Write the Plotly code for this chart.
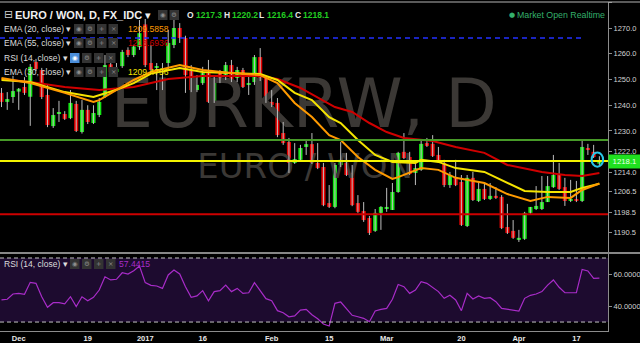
import plotly.graph_objects as go
import pandas as pd

# ---------------- data ----------------
dates = [d.strftime("%Y-%m-%d") for d in pd.bdate_range("2016-11-28", "2017-04-21")]

opens = [1244.8, 1241.3, 1243.2, 1245.3, 1247.1, 1243.3, 1256.8, 1253.7, 1244.0, 1231.9,
         1236.8, 1236.6, 1235.0, 1240.5, 1229.6, 1238.2, 1233.1, 1236.2, 1243.2, 1255.9,
         1252.9, 1255.2, 1261.5, 1259.5, 1262.6, 1271.4, 1256.4, 1254.5, 1253.7, 1256.4,
         1263.4, 1270.0, 1266.1, 1253.7, 1245.9, 1248.6, 1252.5, 1241.3, 1252.5, 1251.0,
         1255.6, 1250.6, 1253.7, 1247.9, 1249.0, 1258.7, 1250.6, 1241.3, 1240.9, 1229.2,
         1225.7, 1217.6, 1218.8, 1223.8, 1224.9, 1217.6, 1216.0, 1202.0, 1200.5, 1216.8,
         1217.6, 1213.7, 1202.0, 1198.9, 1196.2, 1191.2, 1198.2, 1199.7, 1199.3, 1206.3,
         1221.9, 1219.9, 1213.7, 1214.9, 1225.3, 1225.0, 1220.7, 1217.6, 1209.0, 1212.1,
         1210.2, 1193.1, 1211.8, 1202.8, 1207.5, 1203.6, 1204.8, 1204.4, 1192.7, 1191.2,
         1187.7, 1188.1, 1198.2, 1199.7, 1199.7, 1202.4, 1208.2, 1212.9, 1208.2, 1202.8,
         1203.6, 1202.8, 1223.4, 1221.9, 1217.3]
highs = [1246.7, 1245.1, 1251.4, 1246.7, 1250.9, 1256.0, 1258.0, 1254.5, 1247.9, 1238.9,
         1241.7, 1237.7, 1245.9, 1241.7, 1242.0, 1240.0, 1240.0, 1242.8, 1259.5, 1258.7,
         1256.4, 1261.5, 1262.5, 1263.5, 1273.1, 1273.5, 1263.4, 1256.4, 1256.4, 1269.2,
         1274.3, 1271.9, 1267.0, 1255.6, 1251.7, 1254.9, 1257.6, 1251.7, 1253.7, 1256.8,
         1257.6, 1254.9, 1254.5, 1251.0, 1259.5, 1262.2, 1251.3, 1245.9, 1242.8, 1233.5,
         1227.3, 1225.3, 1224.6, 1226.1, 1229.2, 1225.3, 1217.6, 1209.0, 1217.6, 1225.7,
         1221.5, 1216.8, 1205.1, 1202.4, 1197.0, 1199.7, 1200.8, 1207.9, 1209.8, 1221.9,
         1229.2, 1221.9, 1217.6, 1226.5, 1227.3, 1228.4, 1223.8, 1218.8, 1214.1, 1218.8,
         1212.9, 1212.9, 1214.1, 1210.2, 1209.8, 1209.8, 1208.2, 1205.1, 1201.7, 1195.4,
         1191.6, 1198.6, 1200.5, 1208.6, 1212.5, 1212.5, 1220.7, 1217.6, 1211.8, 1211.0,
         1210.6, 1226.5, 1225.0, 1224.6, 1220.2]
lows = [1239.3, 1238.2, 1240.9, 1238.2, 1244.0, 1232.0, 1253.3, 1242.4, 1231.5, 1231.2,
        1233.5, 1234.3, 1234.6, 1229.6, 1229.0, 1232.7, 1232.7, 1235.4, 1242.8, 1252.0,
        1251.7, 1254.5, 1258.7, 1258.7, 1261.5, 1254.8, 1252.9, 1245.9, 1245.9, 1253.7,
        1262.2, 1264.2, 1244.8, 1245.1, 1245.1, 1247.9, 1240.9, 1240.9, 1248.6, 1249.8,
        1249.0, 1249.0, 1246.7, 1244.0, 1247.9, 1249.4, 1240.9, 1239.3, 1227.6, 1224.6,
        1213.7, 1217.2, 1218.0, 1220.7, 1217.2, 1215.2, 1200.8, 1200.1, 1200.0, 1216.0,
        1212.5, 1200.8, 1198.2, 1194.7, 1189.6, 1190.8, 1191.6, 1198.6, 1199.3, 1206.0,
        1219.1, 1212.9, 1209.0, 1214.5, 1223.8, 1219.9, 1217.6, 1208.2, 1207.9, 1208.6,
        1193.1, 1192.7, 1202.8, 1202.4, 1203.2, 1203.2, 1203.6, 1191.9, 1190.0, 1188.1,
        1186.9, 1187.7, 1197.4, 1199.3, 1199.3, 1202.4, 1207.9, 1207.1, 1200.9, 1202.4,
        1202.4, 1202.4, 1220.7, 1219.5, 1216.4]
closes = [1241.3, 1242.4, 1245.5, 1246.4, 1244.8, 1254.9, 1254.1, 1243.2, 1232.3, 1236.2,
          1237.2, 1234.7, 1240.9, 1230.0, 1238.2, 1233.5, 1237.0, 1241.3, 1255.6, 1252.9,
          1254.1, 1260.7, 1259.5, 1262.8, 1268.0, 1255.6, 1253.7, 1255.2, 1254.1, 1264.2,
          1270.0, 1266.1, 1251.7, 1245.9, 1247.9, 1252.5, 1241.3, 1249.8, 1249.4, 1255.6,
          1249.8, 1253.7, 1247.1, 1248.6, 1258.7, 1249.8, 1241.3, 1240.1, 1228.4, 1225.3,
          1217.6, 1219.1, 1223.4, 1224.9, 1217.6, 1215.6, 1201.2, 1200.5, 1216.8, 1218.8,
          1212.9, 1201.2, 1198.6, 1195.4, 1190.4, 1198.2, 1200.5, 1200.5, 1206.3, 1221.5,
          1219.5, 1213.3, 1215.6, 1225.0, 1224.2, 1220.3, 1218.0, 1209.0, 1212.9, 1209.0,
          1193.5, 1211.8, 1203.2, 1207.5, 1203.6, 1204.8, 1204.0, 1192.3, 1190.4, 1188.5,
          1188.5, 1198.2, 1200.5, 1200.9, 1202.4, 1208.6, 1212.9, 1207.5, 1202.8, 1203.6,
          1202.8, 1223.8, 1222.6, 1219.9, 1218.1]

rsi_values = [43.8, 44.2, 47.5, 47.9, 47.3, 54.8, 54.2, 45.8, 39.2, 42.1,
              42.1, 41.3, 45.8, 39.6, 45.8, 43.3, 45.4, 50.0, 58.3, 56.3,
              56.7, 60.8, 60.0, 62.1, 65.0, 54.6, 52.9, 52.5, 51.0, 59.4,
              62.5, 60.0, 52.1, 45.4, 46.3, 49.6, 43.3, 49.0, 49.6, 53.1,
              49.0, 51.0, 47.9, 48.3, 54.6, 49.6, 44.6, 43.3, 37.1, 35.8,
              33.3, 33.8, 37.5, 37.9, 34.6, 32.0, 28.8, 27.5, 41.7, 42.5,
              38.5, 34.2, 33.3, 32.3, 30.2, 36.9, 37.9, 38.5, 44.2, 53.5,
              52.1, 47.9, 50.0, 55.2, 54.2, 51.7, 49.0, 44.8, 46.7, 43.8,
              37.1, 47.9, 44.4, 46.3, 44.8, 45.2, 42.7, 38.5, 37.9, 37.3,
              36.9, 44.8, 46.7, 47.5, 49.0, 53.1, 56.3, 51.7, 48.3, 48.3,
              48.3, 62.9, 61.9, 57.3, 57.4415]

# EMA values read at bar positions (index into dates)
ema20_at = [0, 5, 11, 16, 17, 20, 23, 26, 31, 35, 40, 45, 48, 51, 54, 57, 59, 62, 65, 68,
            69, 73, 76, 79, 84, 88, 92, 95, 99, 101, 104]
ema20_values = [1250.6, 1248.6, 1244.8, 1241.3, 1242.0, 1246.0, 1249.8, 1252.9, 1255.6, 1253.7,
                1252.5, 1251.7, 1248.6, 1240.9, 1235.4, 1228.4, 1226.5, 1219.9, 1214.9, 1211.4,
                1212.1, 1215.6, 1214.9, 1211.8, 1209.8, 1205.5, 1202.8, 1204.4, 1204.0, 1207.1,
                1209.5858]
ema30_at = [0, 5, 11, 16, 20, 23, 26, 31, 35, 45, 48, 51, 54, 57, 59, 62, 65, 68, 72, 73,
            76, 79, 84, 88, 91, 95, 99, 101, 104]
ema30_values = [1249.8, 1249.0, 1245.1, 1243.2, 1246.0, 1248.6, 1252.3, 1254.5, 1252.9, 1252.1,
                1249.8, 1244.8, 1242.0, 1235.4, 1233.1, 1226.5, 1220.7, 1218.0, 1217.6, 1218.8,
                1218.0, 1215.6, 1214.1, 1209.8, 1206.7, 1206.3, 1206.3, 1207.9, 1209.4756]
ema55_at = [0, 5, 11, 17, 23, 29, 35, 45, 48, 52, 58, 61, 64, 67, 70, 75, 79, 84, 88, 94,
            98, 101, 104]
ema55_values = [1250.2, 1249.0, 1247.1, 1245.9, 1247.1, 1250.2, 1251.4, 1251.4, 1250.2, 1246.7,
                1239.3, 1237.4, 1233.1, 1229.6, 1227.3, 1226.1, 1223.8, 1221.5, 1216.8, 1214.1,
                1212.9, 1212.5, 1213.6936]

tick_dates = ["2016-12-01", "2016-12-19", "2017-01-02", "2017-01-16", "2017-02-01",
              "2017-02-15", "2017-03-01", "2017-03-20", "2017-04-03", "2017-04-17"]
tick_labels = ["Dec", "19", "2017", "16", "Feb", "15", "Mar", "20", "Apr", "17"]

price_ticks = [1190.5, 1198.5, 1206.5, 1214.0, 1222.0, 1230.0, 1240.0, 1250.0, 1260.0, 1270.0, 1280.0]
rsi_ticks = [40, 60]
rsi_bands = [30, 70]

level_prices = [1226.5, 1218.3, 1197.7]
level_colors = ["#479a28", "#f4f400", "#cc0000"]
trend_level = 1266.1

# ---------------- geometry helpers (paper coords from pixel) ----------------
PW, TOP, BOT = 608.0, 2.0, 331.0
PH = BOT - TOP
FONT = "Liberation Sans"


def PX(x):
    return x / PW


def PY(y):
    return (BOT - y) / PH


xs = list(range(len(dates)))
n = len(dates)

fig = go.Figure()

# watermark (drawn first so candles sit on top)
fig.add_trace(go.Scatter(
    x=[52.6, 52.8], y=[1238.0, 1215.1], mode="text",
    text=["EURKRW, D", "EURO / WON"],
    textfont=dict(family="DejaVu Sans", size=[67, 34], color="#3b3835"),
    textposition="middle center", hoverinfo="skip", xaxis="x", yaxis="y"))

# wicks
wx, wy = [], []
for i, (h, l) in enumerate(zip(highs, lows)):
    wx += [i, i, None]
    wy += [l, h, None]
fig.add_trace(go.Scatter(x=wx, y=wy, mode="lines", line=dict(color="#bdbdbd", width=1),
                         hoverinfo="skip", xaxis="x", yaxis="y"))

# bodies
base = [min(o, c) for o, c in zip(opens, closes)]
height = [max(abs(c - o), 0.45) for o, c in zip(opens, closes)]
colors = ["#14e614" if c >= o else "#e80000" for o, c in zip(opens, closes)]
fig.add_trace(go.Bar(x=xs, y=height, base=base, width=0.72,
                     marker=dict(color=colors, line=dict(width=0)),
                     hoverinfo="skip", xaxis="x", yaxis="y"))

# EMAs
for at, vals, col in [(ema55_at, ema55_values, "#d00000"),
                      (ema30_at, ema30_values, "#f5e400"),
                      (ema20_at, ema20_values, "#ff9a00")]:
    fig.add_trace(go.Scatter(x=at, y=vals, mode="lines", line=dict(color=col, width=2),
                             hoverinfo="skip", xaxis="x", yaxis="y"))

# RSI
fig.add_trace(go.Scatter(x=xs, y=rsi_values, mode="lines", line=dict(color="#a82cc8", width=1.2),
                         hoverinfo="skip", xaxis="x", yaxis="y2"))

shapes = []
# RSI band
shapes.append(dict(type="rect", xref="paper", yref="y2", x0=0, x1=1, y0=rsi_bands[0], y1=rsi_bands[1],
                   fillcolor="#1d0b2f", line=dict(width=0), layer="below"))
for b in rsi_bands:
    shapes.append(dict(type="line", xref="paper", yref="y2", x0=0, x1=1, y0=b, y1=b,
                       line=dict(color="#c4c4c4", width=1, dash="4px,3px")))
# level lines
for p, c in zip(level_prices, level_colors):
    shapes.append(dict(type="line", xref="paper", yref="y", x0=0, x1=1, y0=p, y1=p,
                       line=dict(color=c, width=2)))
shapes.append(dict(type="line", xref="paper", yref="y", x0=0, x1=PX(582), y0=trend_level, y1=trend_level,
                   line=dict(color="#2330ff", width=1.5, dash="5px,4px")))
# cyan circle around last bar
shapes.append(dict(type="circle", xref="x", yref="y", x0=n - 1 - 1.35, x1=n - 1 + 0.65,
                   y0=closes[-1] - 2.0, y1=closes[-1] + 3.5,
                   line=dict(color="#28c4e8", width=2)))
# frame lines
shapes.append(dict(type="line", xref="paper", yref="paper", x0=0, x1=640 / PW, y0=PY(253), y1=PY(253),
                   line=dict(color="#b4b4b4", width=1.5)))
shapes.append(dict(type="line", xref="paper", yref="paper", x0=0, x1=640 / PW, y0=1.0, y1=1.0,
                   line=dict(color="#b4b4b4", width=1)))

annotations = []


def ann(x, y, text, size, color, xanchor="left", family=FONT, **kw):
    annotations.append(dict(xref="paper", yref="paper", x=PX(x), y=PY(y), text=text, showarrow=False,
                            xanchor=xanchor, yanchor="middle",
                            font=dict(family=family, size=size, color=color), **kw))


def buttons(xlist, y, first_blue=False):
    glyphs = ["◉", "⚙", "+", "×"]
    for k, bx in enumerate(xlist):
        blue = first_blue and k == 0
        shapes.append(dict(type="rect", xref="paper", yref="paper", x0=PX(bx), x1=PX(bx + 9.5),
                           y0=PY(y + 5), y1=PY(y - 5), fillcolor="#4a8edb" if blue else "#333333",
                           line=dict(width=0)))
        ann(bx + 4.75, y, glyphs[k], 6.5, "#ffffff" if blue else "#8c8c8c", xanchor="center",
            family="DejaVu Sans")


# header
ann(1.5, 15, "⊟", 11, "#cfcfcf", family="DejaVu Sans")
ann(13, 15, "<b>EURO / WON, D, FX_IDC</b> ▾", 11, "#f0f0f0")
buttons([158, 169.5], 15)
hdr = [("O", 185, "1217.3", 194), ("H", 222, "1220.2", 230),
       ("L", 257, "1216.4", 265), ("C", 293, "1218.1", 301)]
for lab, lx, val, vx in hdr:
    ann(lx, 15, "<b>" + lab + "</b>", 8.5, "#e6e6e6")
    ann(vx, 15, "<b>" + val + "</b>", 8.5, "#22cc22")

ann(507, 15, "●", 7, "#34b06c", family="DejaVu Sans")
ann(515, 15, "Market Open Realtime", 8.8, "#34b06c")

rows = [("EMA (20, close)", 29, "1209.5858", "#ff9a00", False),
        ("EMA (55, close)", 43, "1213.6936", "#cc0000", False),
        ("RSI (14, close)", 58, None, None, True),
        ("EMA (30, close)", 72, "1209.4756", "#f5e400", False)]
for label, ry, val, vcol, is_rsi in rows:
    ann(2, ry, label + " ▾", 8.5, "#dcdcdc")
    if is_rsi:
        buttons([70, 82, 94, 106], ry, first_blue=True)
    else:
        buttons([74, 85.5, 97, 108.5], ry)
        ann(126, ry, val, 8.6, vcol)

# RSI pane legend
ann(2, 264, "RSI (14, close) ▾", 8.5, "#dcdcdc")
buttons([70, 82, 94, 106], 264)
ann(117, 264, "57.4415", 8.6, "#a82cc8")

# last price label
annotations.append(dict(xref="paper", yref="y", x=1.0, y=closes[-1], text="1218.1", showarrow=False,
                        xanchor="left", yanchor="middle", bgcolor="#1fe01f", width=29, height=11,
                        font=dict(family=FONT, size=7.8, color="#eaffea")))

tickvals_x = [dates.index(d) for d in tick_dates]

fig.update_layout(
    width=640, height=343, autosize=False,
    margin=dict(l=0, r=32, t=TOP, b=343 - BOT, pad=0),
    paper_bgcolor="#000000", plot_bgcolor="#000000",
    showlegend=False, hovermode=False, barmode="overlay",
    shapes=shapes, annotations=annotations,
    xaxis=dict(range=[-0.26, 105.5], tickvals=tickvals_x, ticktext=tick_labels,
               showgrid=False, zeroline=False, showline=True, linecolor="#8c8c8c", linewidth=1,
               ticks="", tickfont=dict(family=FONT, size=7.5, color="#e8e8e8", weight="bold"),
               anchor="y2", fixedrange=True),
    yaxis=dict(domain=[PY(252), 1.0], range=[1183.0, 1280.1], side="right",
               tickvals=price_ticks, ticktext=["%.1f" % v for v in price_ticks],
               showgrid=False, zeroline=False, showline=True, linecolor="#8c8c8c", linewidth=1,
               ticks="outside", ticklen=3, tickcolor="#8c8c8c",
               tickfont=dict(family=FONT, size=7.5, color="#d2d2d2"), anchor="x"),
    yaxis2=dict(domain=[0, PY(254)], range=[24.4, 72.5], side="right",
                tickvals=rsi_ticks, ticktext=["%.4f" % v for v in rsi_ticks],
                showgrid=False, zeroline=False, showline=True, linecolor="#8c8c8c", linewidth=1,
                ticks="outside", ticklen=3, tickcolor="#8c8c8c",
                tickfont=dict(family=FONT, size=7.5, color="#d2d2d2"), anchor="x"),
)

fig.write_html("out.html")
